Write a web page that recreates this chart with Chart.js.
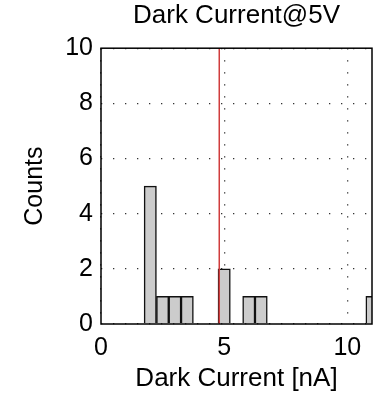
<!DOCTYPE html>
<html>
<head>
<meta charset="utf-8">
<script src="https://cdn.jsdelivr.net/npm/chart.js@4.4.1/dist/chart.umd.min.js"></script>
<style>
  body { margin: 0; background: #fff; }
  #wrap { width: 374px; height: 398px; position: relative; }
</style>
</head>
<body>
<div id="wrap"><canvas id="hist"></canvas></div>
<script>
// histogram bins (centre of each 0.5 nA bin) and counts
var binCenters = [2, 2.5, 3, 3.5, 5, 6, 6.5, 11];
var counts = [5, 1, 1, 1, 2, 1, 1, 1];
// red marker line position
var markerX = 4.8;
var xTicks = [0, 5, 10];
var yTicks = [0, 2, 4, 6, 8, 10];
var xMin = 0, xMax = 11;
var yMin = 0, yMax = 10;

var font = "'Liberation Sans', Arial, Helvetica, sans-serif";
Chart.defaults.color = '#000';
Chart.defaults.font.family = font;

var barData = binCenters.map(function (c, i) { return { x: c, y: counts[i] }; });
var markerData = [{ x: markerX, y: yMin }, { x: markerX, y: yMax }];

// solid black box round the plot area
var frame = {
  id: 'frame',
  afterDatasetsDraw: function (chart) {
    var a = chart.chartArea, ctx = chart.ctx;
    ctx.save();
    ctx.strokeStyle = '#000';
    ctx.lineWidth = 1.5;
    ctx.strokeRect(a.left, a.top, a.right - a.left, a.bottom - a.top);
    ctx.restore();
  }
};

var g = document.getElementById('hist').getContext('2d');
var chart = new Chart(g, {
  type: 'bar',
  data: {
    datasets: [{
      type: 'line',
      data: markerData,
      borderColor: '#d03c3c',
      borderWidth: 1.5,
      pointRadius: 0,
      order: 0
    }, {
      type: 'bar',
      data: barData,
      backgroundColor: '#cccccc',
      borderColor: '#111',
      borderWidth: 1.5,
      barPercentage: 1,
      categoryPercentage: 1,
      clip: 0,
      order: 1
    }]
  },
  options: {
    responsive: true,
    maintainAspectRatio: false,
    animation: false,
    layout: { padding: { left: 0, right: 2, top: 0, bottom: 0 } },
    plugins: {
      legend: { display: false },
      tooltip: { enabled: false },
      title: {
        display: true,
        text: 'Dark Current@5V',
        fullSize: false,
        font: { size: 26, weight: 'normal' },
        padding: { top: 0, bottom: 17 }
      }
    },
    scales: {
      x: {
        type: 'linear',
        min: xMin,
        max: xMax,
        offset: false,
        afterBuildTicks: function (s) { s.ticks = xTicks.map(function (v) { return { value: v }; }); },
        afterFit: function (s) { s.height = 74; },
        grid: { offset: false, drawTicks: false, color: '#333', lineWidth: 1.3 },
        border: { display: false, dash: [1.3, 10.7] },
        ticks: { font: { size: 25 }, padding: 9, maxRotation: 0 },
        title: { display: true, text: 'Dark Current [nA]', font: { size: 26 }, padding: { top: 0, bottom: 4 } }
      },
      y: {
        min: yMin,
        max: yMax,
        afterBuildTicks: function (s) { s.ticks = yTicks.map(function (v) { return { value: v }; }); },
        afterFit: function (s) { s.width = 101; },
        grid: { drawTicks: false, color: '#333', lineWidth: 1.3 },
        border: { display: false, dash: [1.3, 10.7] },
        ticks: { font: { size: 25 }, padding: 8 },
        title: { display: true, text: 'Counts', font: { size: 25 }, padding: { top: 20, bottom: 0 } }
      }
    }
  },
  plugins: [frame]
});
</script>
</body>
</html>
